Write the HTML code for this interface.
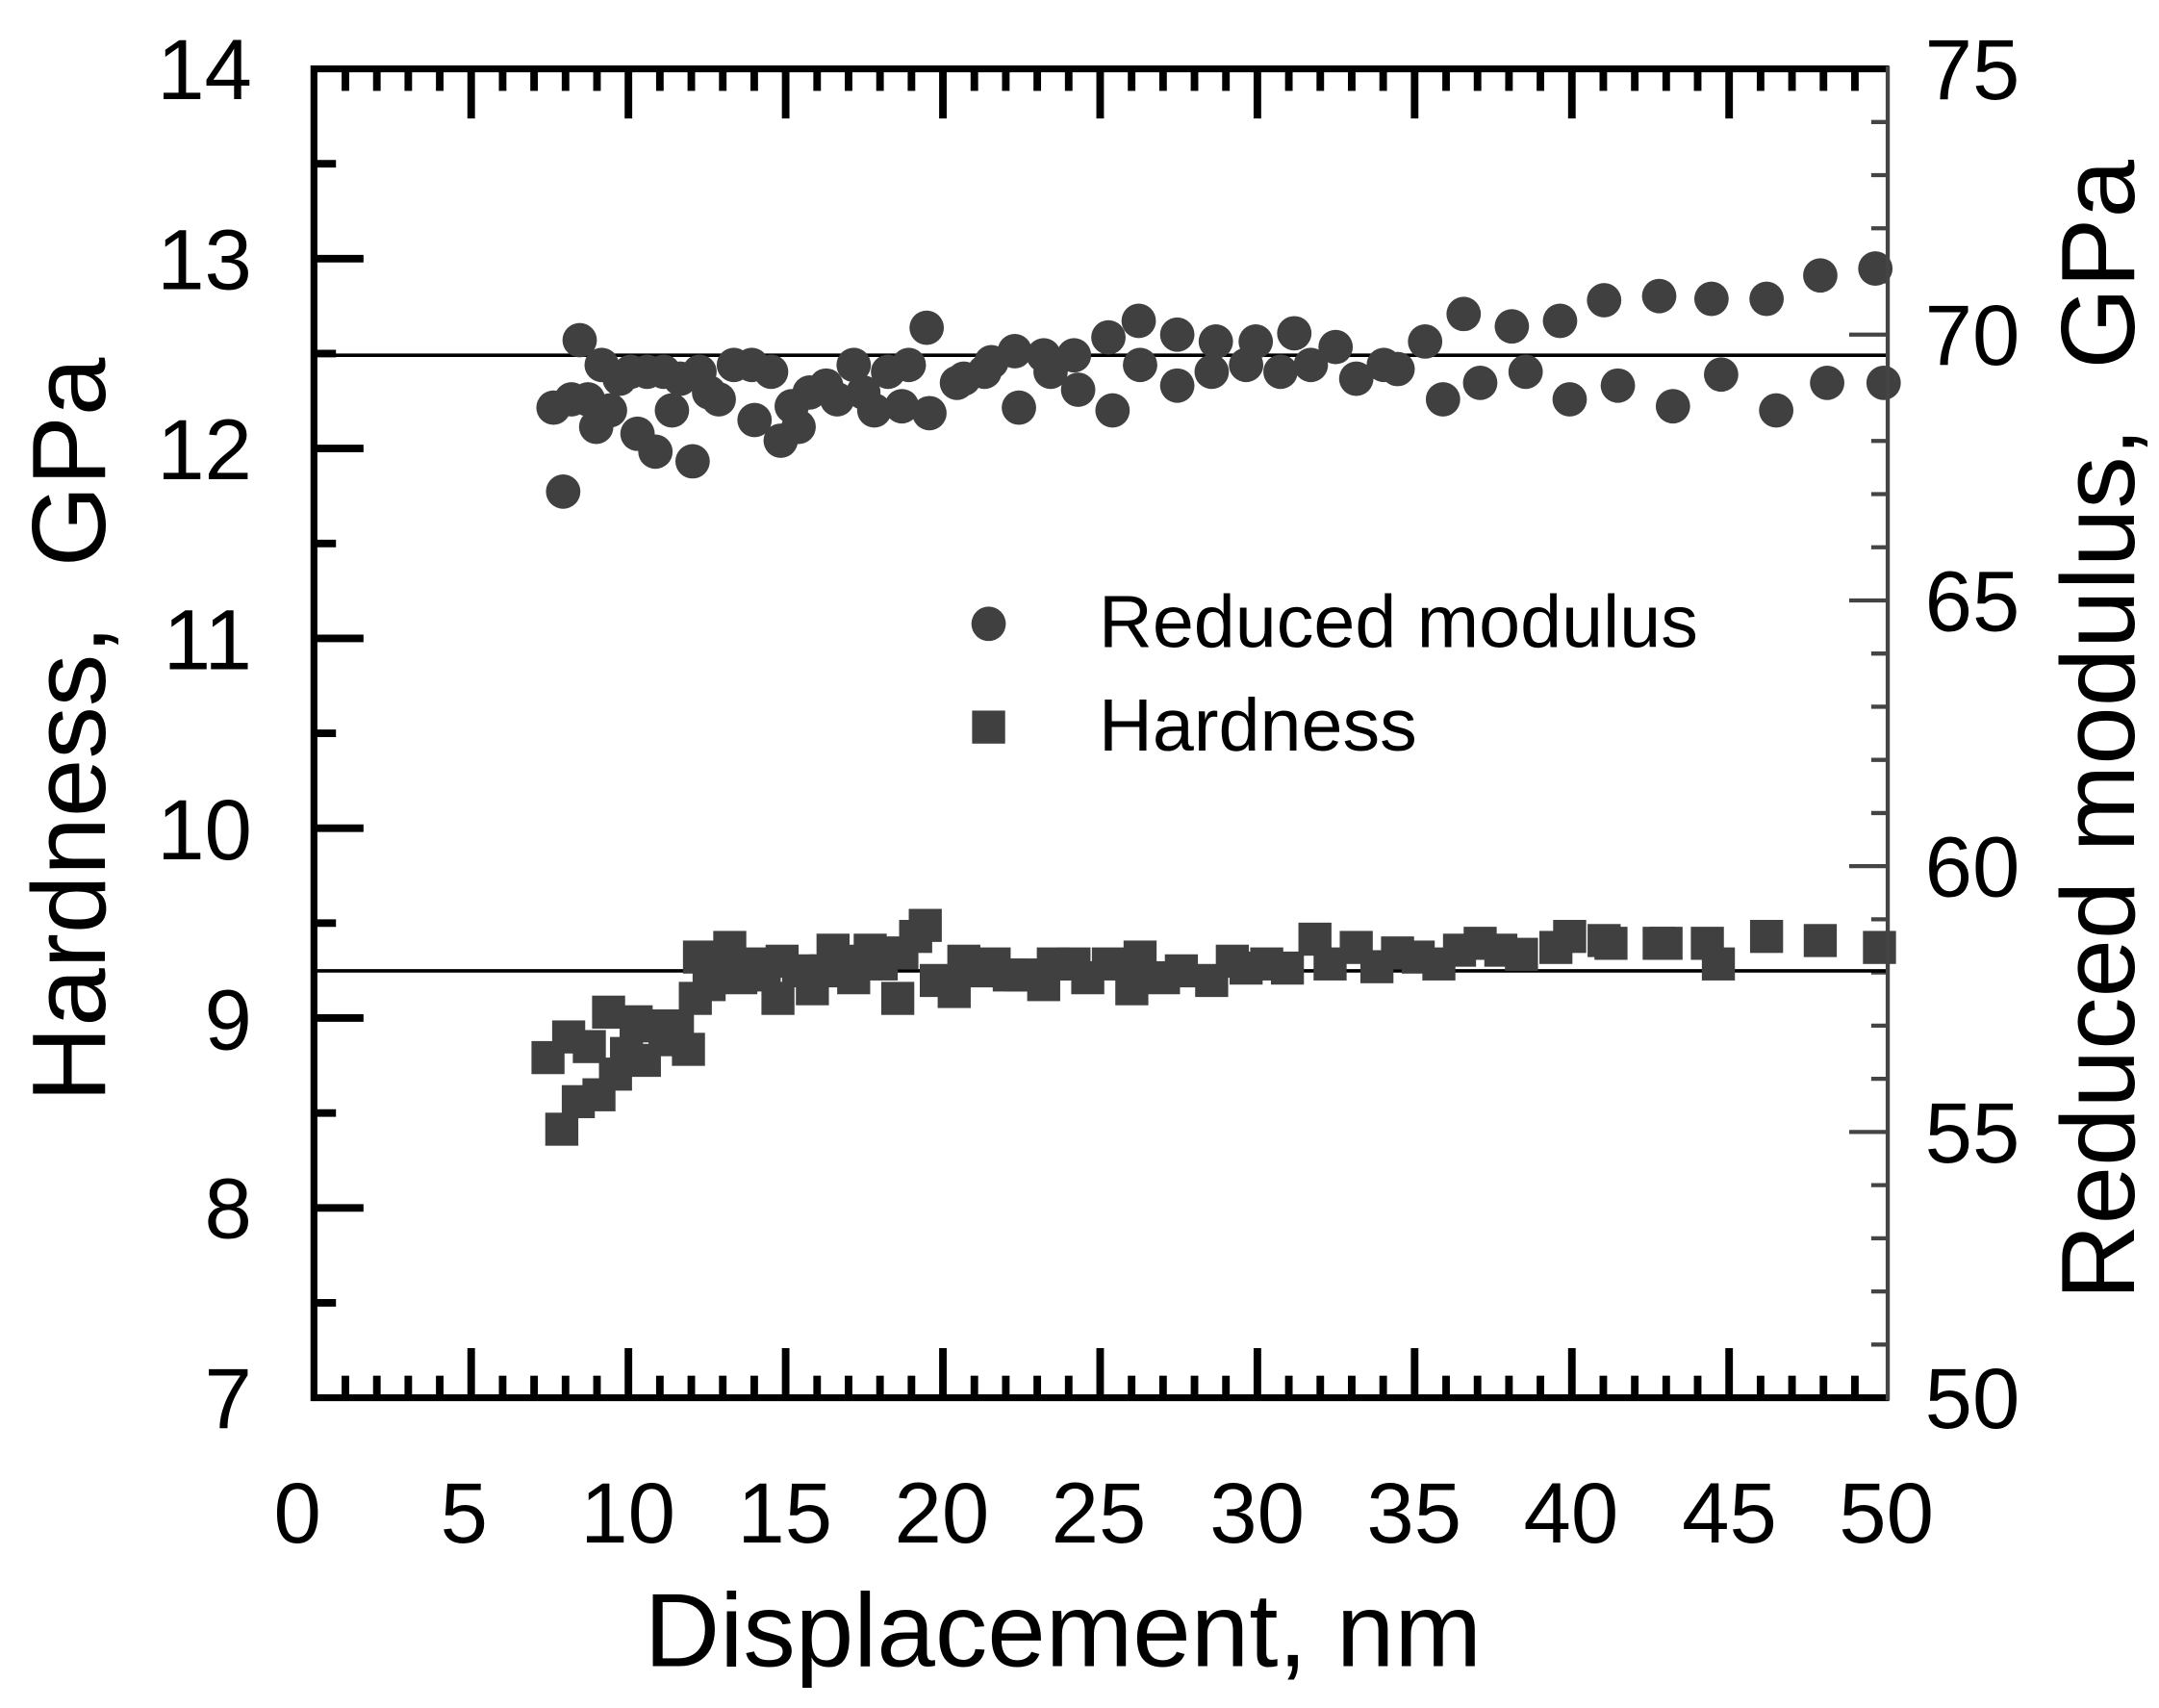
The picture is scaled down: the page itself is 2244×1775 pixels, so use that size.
<!DOCTYPE html>
<html><head><meta charset="utf-8"><style>html,body{margin:0;padding:0;background:#fff}svg{display:block}</style></head>
<body>
<svg width="2244" height="1775" viewBox="0 0 1568 1240.3" xmlns="http://www.w3.org/2000/svg" font-family="Liberation Sans, Arial, sans-serif">
<rect width="1568" height="1241" fill="#fff"/>
<g id="ticks"></g>
<line x1="228" y1="258" x2="1370" y2="258" stroke="#000" stroke-width="2.5"/>
<line x1="228" y1="705" x2="1370" y2="705" stroke="#000" stroke-width="2.5"/>
<g id="pts" fill="#404040"></g>
<polyline points="1372,50 228,50 228,1015 1372,1015" fill="none" stroke="#000" stroke-width="5"/>
<line x1="1371" y1="48" x2="1371" y2="1017" stroke="#444" stroke-width="3"/>
<g font-size="62" fill="#000" text-anchor="end">
<text x="183" y="72">14</text><text x="183" y="210">13</text><text x="183" y="348">12</text><text x="183" y="486">11</text><text x="183" y="624">10</text><text x="183" y="762">9</text><text x="183" y="899">8</text><text x="183" y="1037">7</text>
</g>
<g font-size="62" fill="#000" text-anchor="start">
<text x="1398" y="72">75</text><text x="1398" y="265">70</text><text x="1398" y="458">65</text><text x="1398" y="651">60</text><text x="1398" y="844">55</text><text x="1398" y="1037">50</text>
</g>
<g font-size="62" fill="#000" text-anchor="middle">
<text x="216" y="1120">0</text><text x="337" y="1120">5</text><text x="456" y="1120">10</text><text x="570" y="1120">15</text><text x="684" y="1120">20</text><text x="798" y="1120">25</text><text x="913" y="1120">30</text><text x="1027" y="1120">35</text><text x="1141" y="1120">40</text><text x="1256" y="1120">45</text><text x="1370" y="1120">50</text>
</g>
<text x="772" y="1210" font-size="76" text-anchor="middle">Displacement, nm</text>
<text transform="translate(76,530) rotate(-90)" font-size="76" text-anchor="middle" xml:space="preserve">Hardness,  GPa</text>
<text transform="translate(1550,530) rotate(-90)" font-size="76" text-anchor="middle" xml:space="preserve">Reduced modulus,  GPa</text>
<circle cx="718" cy="453" r="12.5" fill="#404040"/>
<rect x="706" y="516" width="24" height="24" fill="#404040"/>
<text x="798" y="470" font-size="54">Reduced modulus</text>
<text x="798" y="545" font-size="54">Hardness</text>
<script>
(function(){
var ns="http://www.w3.org/2000/svg",t=document.getElementById('ticks'),p=document.getElementById('pts');
function L(x1,y1,x2,y2,c,w){var l=document.createElementNS(ns,'line');l.setAttribute('x1',x1);l.setAttribute('y1',y1);l.setAttribute('x2',x2);l.setAttribute('y2',y2);l.setAttribute('stroke',c);l.setAttribute('stroke-width',w);t.appendChild(l);}
for(var i=1;i<50;i++){var x=228+i*22.84,len=(i%5==0)?36:16;L(x,1015,x,1015-len,'#000',5.5);L(x,50,x,50+len,'#000',5.5);}
for(var j=1;j<14;j++){var y=1015-j*68.93,len=(j%2==0)?36:16;L(228,y,228+len,y,'#000',5.5);}
for(var k=1;k<25;k++){var y=1015-k*38.6,len=(k%5==0)?28:12;L(1371,y,1371-len,y,'#444',3);}
var C=[[402,296],[409,357],[415,290],[421,247],[427,290],[433,310],[437,265],[443,298],[450,275],[458,270],[463,315],[470,270],[476,328],[482,270],[488,298],[494,275],[503,335],[508,270],[515,285],[522,290],[533,265],[548,305],[546,265],[560,270],[567,320],[575,295],[580,310],[588,285],[600,280],[608,290],[620,265],[627,285],[635,298],[645,270],[655,295],[660,265],[673,238],[675,300],[695,278],[700,275],[715,270],[720,263],[737,255],[740,296],[758,258],[763,270],[780,258],[783,283],[805,245],[808,298],[827,233],[828,265],[855,243],[855,280],[883,248],[880,270],[905,265],[912,248],[930,270],[940,242],[952,265],[970,252],[985,275],[1005,265],[1015,268],[1035,248],[1048,290],[1063,228],[1075,278],[1098,237],[1108,270],[1133,233],[1140,290],[1165,218],[1175,280],[1205,215],[1215,295],[1243,217],[1250,272],[1283,217],[1290,298],[1322,200],[1327,278],[1362,195],[1368,278]];
var S=[[398,768],[408,820],[413,753],[420,800],[428,760],[435,795],[442,735],[447,780],[455,765],[462,742],[468,770],[478,745],[483,755],[492,745],[500,762],[505,725],[508,695],[515,715],[522,698],[530,688],[538,710],[545,700],[555,708],[565,725],[568,698],[580,705],[590,718],[600,705],[605,690],[612,698],[620,710],[632,690],[640,700],[652,725],[655,692],[665,680],[672,672],[680,712],[693,720],[700,698],[710,705],[722,700],[733,708],[742,708],[758,715],[765,700],[780,700],[790,710],[805,700],[822,718],[828,695],[845,710],[858,705],[880,712],[895,698],[905,703],[920,700],[935,703],[955,682],[966,700],[985,688],[1000,702],[1015,692],[1030,695],[1045,700],[1060,690],[1075,685],[1090,690],[1105,693],[1130,688],[1140,680],[1165,683],[1170,685],[1205,685],[1210,685],[1240,685],[1248,700],[1283,680],[1322,683],[1365,688]];
C.forEach(function(a){var c=document.createElementNS(ns,'circle');c.setAttribute('cx',a[0]);c.setAttribute('cy',a[1]);c.setAttribute('r',12.5);p.appendChild(c);});
S.forEach(function(a){var r=document.createElementNS(ns,'rect');r.setAttribute('x',a[0]-12);r.setAttribute('y',a[1]-12);r.setAttribute('width',24);r.setAttribute('height',24);p.appendChild(r);});
})();
</script>
</svg>
</body></html>
